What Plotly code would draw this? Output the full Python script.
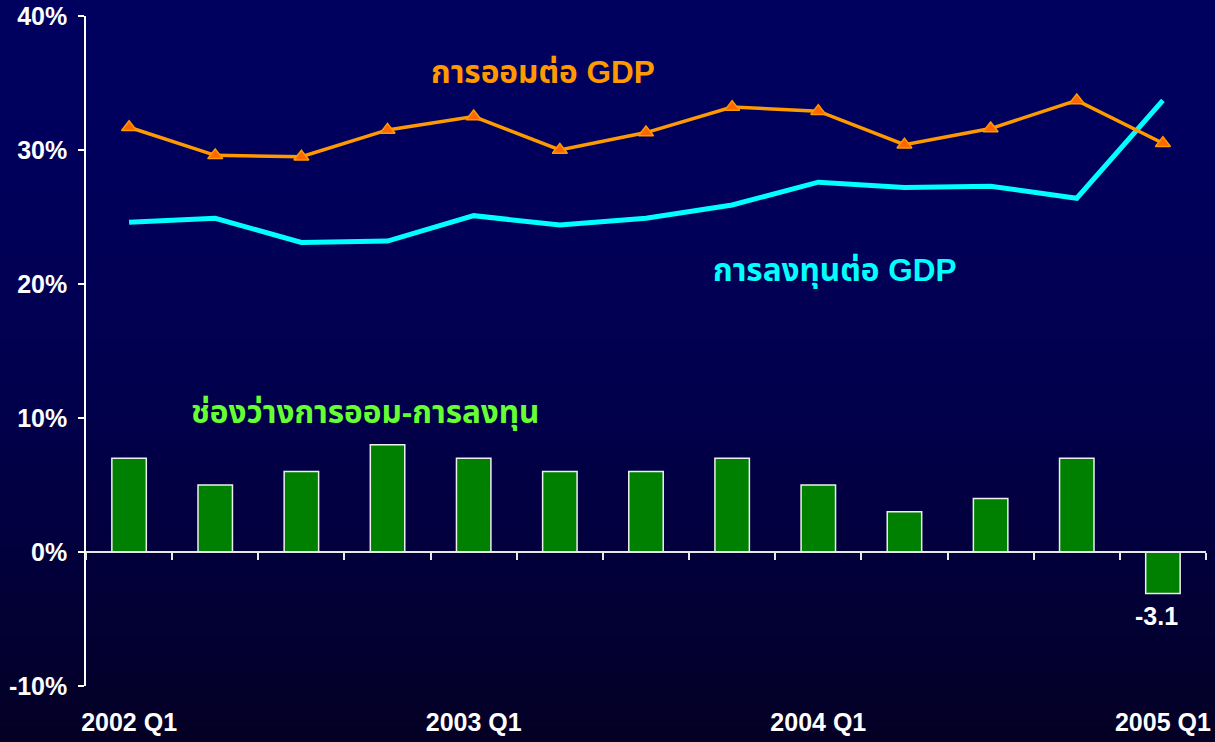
import plotly.graph_objects as go

quarters = ["2002 Q1", "2002 Q2", "2002 Q3", "2002 Q4",
            "2003 Q1", "2003 Q2", "2003 Q3", "2003 Q4",
            "2004 Q1", "2004 Q2", "2004 Q3", "2004 Q4",
            "2005 Q1"]
saving_gdp = [31.7, 29.6, 29.5, 31.5, 32.5, 30.0, 31.3, 33.2, 32.9, 30.4, 31.6, 33.7, 30.5]
invest_gdp = [24.6, 24.9, 23.1, 23.2, 25.1, 24.4, 24.9, 25.9, 27.6, 27.2, 27.3, 26.4, 33.7]
gap = [7, 5, 6, 8, 7, 6, 6, 7, 5, 3, 4, 7, -3.1]
shown_labels = ["2002 Q1", "2003 Q1", "2004 Q1", "2005 Q1"]
y_ticks = [-10, 0, 10, 20, 30, 40]

xi = list(range(len(quarters)))
FONT = "Liberation Sans, Arial, Noto Sans Thai, Tahoma, sans-serif"

fig = go.Figure()

fig.add_trace(go.Bar(
    x=xi, y=gap, width=0.4,
    marker=dict(color="#008000", line=dict(color="#eeeeee", width=1.5)),
    hoverinfo="skip", showlegend=False,
))
fig.add_trace(go.Scatter(
    x=xi, y=invest_gdp, mode="lines",
    line=dict(color="#00FFFF", width=5),
    hoverinfo="skip", showlegend=False,
))
fig.add_trace(go.Scatter(
    x=xi, y=saving_gdp, mode="lines+markers",
    line=dict(color="#FF9900", width=3.5),
    marker=dict(symbol="triangle-up", size=13, color="#FF6600",
                line=dict(color="#FF9900", width=1.5)),
    hoverinfo="skip", showlegend=False,
))

# background gradient
shapes = []
n = 120
for i in range(n):
    t = (i + 0.5) / n
    b = int(round(95 - 62 * t ** 1.8))
    r = int(round(4 * t ** 2))
    shapes.append(dict(type="rect", xref="paper", yref="paper",
                       x0=-0.2, x1=1.2,
                       y0=1.03 - (i + 1) * 1.14 / n, y1=1.03 - i * 1.14 / n + 0.002,
                       fillcolor=f"rgb({r},0,{b})", line=dict(width=0), layer="below"))

tickvals = [i for i, q in enumerate(quarters) if q in shown_labels]
ticktext = [quarters[i] for i in tickvals]

fig.update_layout(
    width=1215, height=742,
    margin=dict(l=86, r=9, t=16, b=56),
    paper_bgcolor="#000030", plot_bgcolor="rgba(0,0,0,0)",
    shapes=shapes,
    font=dict(family=FONT, color="white"),
    xaxis=dict(
        range=[-0.5, 12.5], tickvals=tickvals, ticktext=ticktext,
        showgrid=False, zeroline=False, showline=False, automargin=False,
        ticks="outside", ticklen=14, tickcolor="rgba(0,0,0,0)",
        tickfont=dict(size=25, color="white", family=FONT, weight="bold"),
    ),
    xaxis2=dict(
        range=[-0.5, 12.5], overlaying="x", anchor="free", position=0.2,
        showgrid=False, zeroline=False, showline=True, linecolor="#e8e8e8", linewidth=1.5,
        showticklabels=False, tickvals=[i - 0.5 for i in range(len(quarters) + 1)],
        ticks="outside", ticklen=7, tickcolor="#e8e8e8", tickwidth=1.5, automargin=False,
    ),
    yaxis=dict(
        range=[-10, 40], tickvals=y_ticks, ticktext=[f"{v}%" for v in y_ticks],
        showgrid=False, zeroline=False, showline=True, linecolor="white", linewidth=1.5,
        ticks="outside", ticklen=6, tickcolor="white", tickwidth=1.5, automargin=False,
        ticklabelstandoff=6,
        tickfont=dict(size=25, color="white", family=FONT, weight="bold"),
    ),
    annotations=[
        dict(text="การออมต่อ GDP", xref="paper", yref="paper", xanchor="center",
             x=(543 - 86) / 1120, y=(686 - 52) / 670, showarrow=False,
             font=dict(size=31.5, color="#FF9900", family=FONT, weight="bold")),
        dict(text="การลงทุนต่อ GDP", xref="paper", yref="paper", xanchor="center",
             x=(834 - 86) / 1120, y=(686 - 270) / 670, showarrow=False,
             font=dict(size=31.5, color="#00FFFF", family=FONT, weight="bold")),
        dict(text="ช่องว่างการออม-การลงทุน", xref="paper", yref="paper", xanchor="center",
             x=(365 - 86) / 1120, y=(686 - 412) / 670, showarrow=False,
             font=dict(size=31.5, color="#66FF33", family=FONT, weight="bold")),
        dict(text=f"{gap[-1]}", x=xi[-1], y=gap[-1], xref="x", yref="y",
             yanchor="top", yshift=-6, xshift=-6, showarrow=False,
             font=dict(size=25, color="white", family=FONT, weight="bold")),
    ],
)

# invisible trace to activate xaxis2
fig.add_trace(go.Scatter(x=[xi[0]], y=[gap[0]], xaxis="x2", mode="markers",
                         marker=dict(opacity=0), hoverinfo="skip", showlegend=False))

fig.write_html("out.html", config={"displayModeBar": False},
               post_script="document.body.style.margin='0';document.body.style.overflow='hidden';")
